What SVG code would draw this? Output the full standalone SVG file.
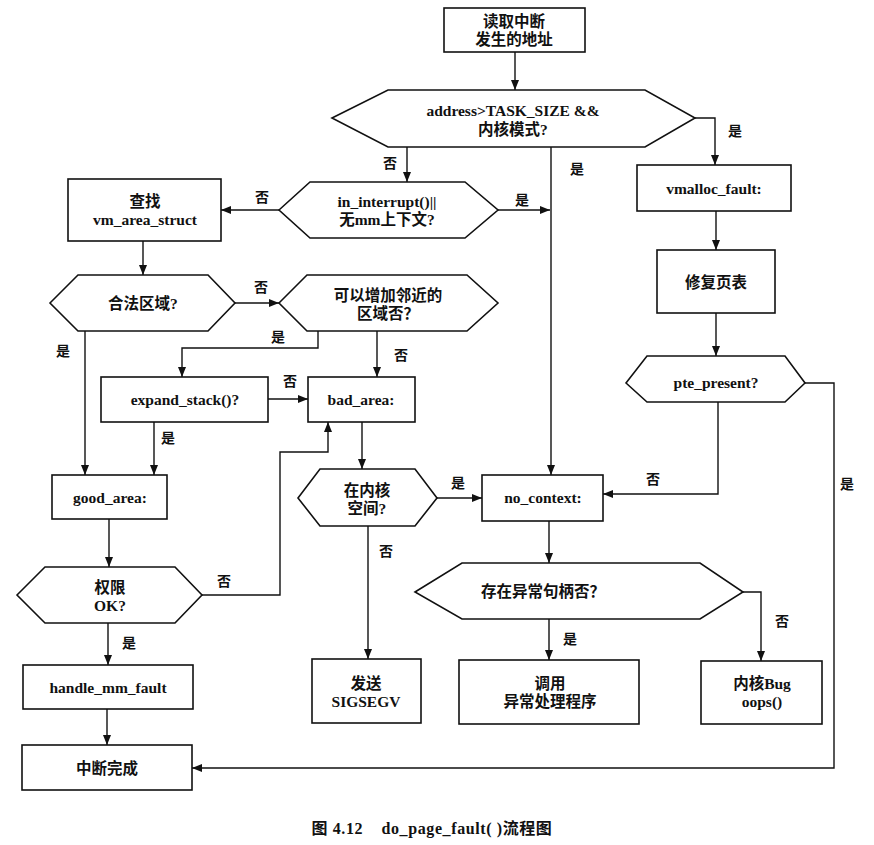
<svg xmlns="http://www.w3.org/2000/svg" width="874" height="845" viewBox="0 0 874 845">
<style>
.n{fill:#fff;stroke:#111;stroke-width:1.6}
.c{fill:none;stroke:#111;stroke-width:1.4}
text{font-family:"Liberation Serif","Noto Sans CJK SC",serif;font-size:15.5px;font-weight:bold;fill:#111;text-anchor:middle;dominant-baseline:central}
.l{font-family:"Noto Sans CJK SC",sans-serif;font-size:14px}
.cap{font-size:16px;letter-spacing:0.6px}
</style>
<defs>
<marker id="a" markerUnits="userSpaceOnUse" markerWidth="10" markerHeight="8" refX="10" refY="4" orient="auto">
<path d="M0,0 L10,4 L0,8 z" fill="#111"/>
</marker>
</defs>
<rect width="874" height="845" fill="#fff"/>
<g id="connectors">
<path class="c" marker-end="url(#a)" d="M515,52 V90"/>
<path class="c" marker-end="url(#a)" d="M695,118 H715 V165"/>
<path class="c" marker-end="url(#a)" d="M407,147 V182"/>
<path class="c" marker-end="url(#a)" d="M551,147 V475"/>
<path class="c" marker-end="url(#a)" d="M498,210 H550"/>
<path class="c" marker-end="url(#a)" d="M279,210 H221"/>
<path class="c" marker-end="url(#a)" d="M143,241 V275"/>
<path class="c" marker-end="url(#a)" d="M235,303 H279"/>
<path class="c" marker-end="url(#a)" d="M318,331 V348 H182 V377"/>
<path class="c" marker-end="url(#a)" d="M377,331 V377"/>
<path class="c" marker-end="url(#a)" d="M85,331 V475"/>
<path class="c" marker-end="url(#a)" d="M268,399 H308"/>
<path class="c" marker-end="url(#a)" d="M154,422 V475"/>
<path class="c" marker-end="url(#a)" d="M202,595 H280 V452 H328 V422"/>
<path class="c" marker-end="url(#a)" d="M362,422 V469"/>
<path class="c" marker-end="url(#a)" d="M109,519 V567"/>
<path class="c" marker-end="url(#a)" d="M108,623 V665"/>
<path class="c" marker-end="url(#a)" d="M107,709 V745"/>
<path class="c" marker-end="url(#a)" d="M437,498 H482"/>
<path class="c" marker-end="url(#a)" d="M368,526 V659"/>
<path class="c" marker-end="url(#a)" d="M718,402 V494 H603"/>
<path class="c" marker-end="url(#a)" d="M549,521 V563"/>
<path class="c" marker-end="url(#a)" d="M743,592 H761 V661"/>
<path class="c" marker-end="url(#a)" d="M549,619 V660"/>
<path class="c" marker-end="url(#a)" d="M805,383 H834 V768 H192"/>
<path class="c" marker-end="url(#a)" d="M716,211 V250"/>
<path class="c" marker-end="url(#a)" d="M716,313 V356"/>
<text class="l" x="735" y="130">是</text>
<text class="l" x="390" y="162">否</text>
<text class="l" x="577" y="168">是</text>
<text class="l" x="522" y="199">是</text>
<text class="l" x="262" y="196">否</text>
<text class="l" x="261" y="286">否</text>
<text class="l" x="278" y="336">是</text>
<text class="l" x="401" y="354">否</text>
<text class="l" x="63" y="350">是</text>
<text class="l" x="290" y="380">否</text>
<text class="l" x="168" y="437">是</text>
<text class="l" x="224" y="580">否</text>
<text class="l" x="129" y="642">是</text>
<text class="l" x="458" y="482">是</text>
<text class="l" x="386" y="550">否</text>
<text class="l" x="653" y="478">否</text>
<text class="l" x="782" y="620">否</text>
<text class="l" x="570" y="638">是</text>
<text class="l" x="847" y="483">是</text>
</g>
<g id="start">
<rect class="n" x="444" y="8" width="141" height="44"/>
<text x="514" y="21">读取中断</text>
<text x="514" y="39">发生的地址</text>
</g>
<g id="d_address">
<polygon class="n" points="332,118 388,90 645,90 695,118 645,147 388,147"/>
<text x="513" y="110">address&gt;TASK_SIZE &amp;&amp;</text>
<text x="513" y="129">内核模式?</text>
</g>
<g id="d_interrupt">
<polygon class="n" points="279,210 310,182 465,182 498,210 465,238 310,238"/>
<text x="387" y="201">in_interrupt()||</text>
<text x="387" y="219">无mm上下文?</text>
</g>
<g id="find_vma">
<rect class="n" x="68" y="179" width="153" height="62"/>
<text x="145" y="201">查找</text>
<text x="145" y="219">vm_area_struct</text>
</g>
<g id="d_legal">
<polygon class="n" points="50,303 78,275 208,275 235,303 208,331 78,331"/>
<text x="143" y="303">合法区域?</text>
</g>
<g id="d_grow">
<polygon class="n" points="279,303 307,275 467,275 498,303 467,331 307,331"/>
<text x="388" y="295">可以增加邻近的</text>
<text x="388" y="313">区域否？</text>
</g>
<g id="expand_stack">
<rect class="n" x="101" y="377" width="167" height="45"/>
<text x="185" y="399">expand_stack()?</text>
</g>
<g id="bad_area">
<rect class="n" x="308" y="377" width="107" height="45"/>
<text x="361" y="399">bad_area:</text>
</g>
<g id="good_area">
<rect class="n" x="52" y="475" width="115" height="44"/>
<text x="110" y="497">good_area:</text>
</g>
<g id="d_perm">
<polygon class="n" points="17,595 45,567 175,567 202,595 175,623 45,623"/>
<text x="110" y="587">权限</text>
<text x="110" y="605">OK?</text>
</g>
<g id="handle_mm_fault">
<rect class="n" x="23" y="665" width="170" height="44"/>
<text x="108" y="687">handle_mm_fault</text>
</g>
<g id="done">
<rect class="n" x="22" y="745" width="170" height="45"/>
<text x="107" y="768">中断完成</text>
</g>
<g id="d_kernel">
<polygon class="n" points="298,498 320,469 415,469 437,498 415,526 320,526"/>
<text x="367" y="490">在内核</text>
<text x="367" y="508">空间?</text>
</g>
<g id="sigsegv">
<rect class="n" x="312" y="659" width="109" height="64"/>
<text x="366" y="683">发送</text>
<text x="366" y="701">SIGSEGV</text>
</g>
<g id="no_context">
<rect class="n" x="482" y="475" width="121" height="46"/>
<text x="543" y="497">no_context:</text>
</g>
<g id="d_handler">
<polygon class="n" points="415,592 462,563 700,563 743,592 700,619 462,619"/>
<text x="543" y="591">存在异常句柄否？</text>
</g>
<g id="call_handler">
<rect class="n" x="459" y="660" width="180" height="64"/>
<text x="550" y="683">调用</text>
<text x="550" y="701">异常处理程序</text>
</g>
<g id="oops">
<rect class="n" x="701" y="661" width="121" height="63"/>
<text x="762" y="683">内核Bug</text>
<text x="762" y="701">oops()</text>
</g>
<g id="vmalloc_fault">
<rect class="n" x="637" y="165" width="154" height="46"/>
<text x="714" y="188">vmalloc_fault:</text>
</g>
<g id="fix_pt">
<rect class="n" x="657" y="250" width="118" height="63"/>
<text x="716" y="282">修复页表</text>
</g>
<g id="d_pte">
<polygon class="n" points="626,383 647,356 785,356 805,383 785,402 647,402"/>
<text x="716" y="382">pte_present?</text>
</g>
<text class="cap" x="432" y="828" xml:space="preserve">图 4.12    do_page_fault( )流程图</text>
</svg>
